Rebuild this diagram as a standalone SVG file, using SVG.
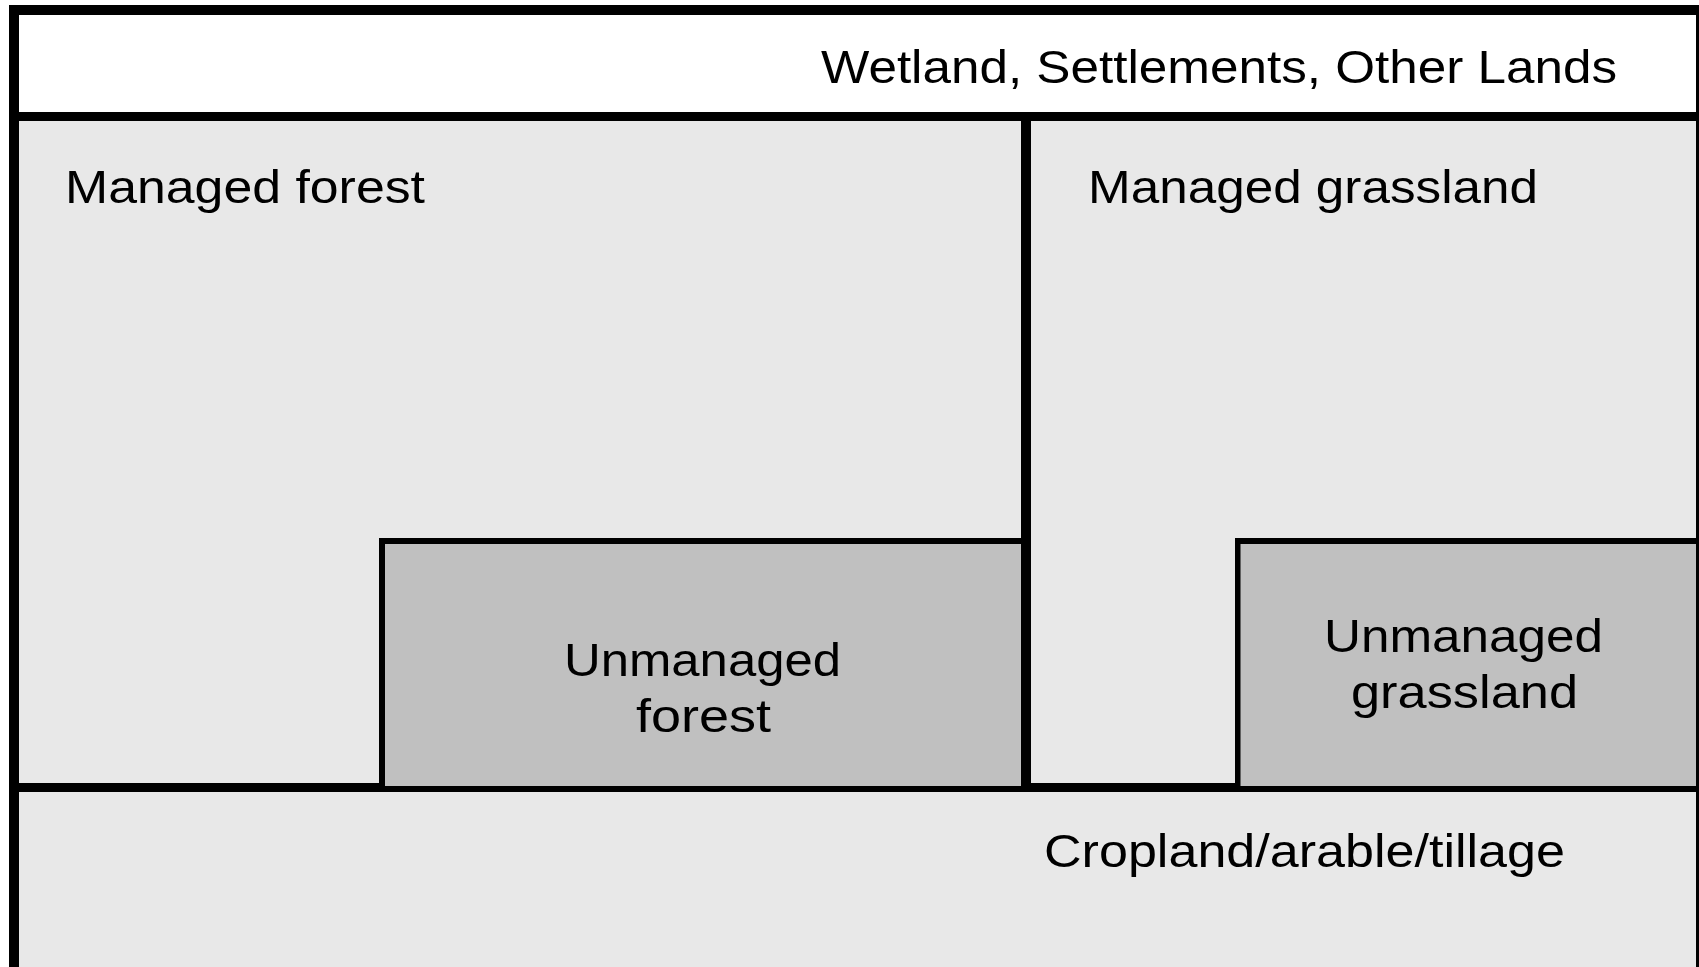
<svg xmlns="http://www.w3.org/2000/svg" width="1699" height="967" viewBox="0 0 1699 967">
<style>
.lbl{font-family:"Liberation Sans",Arial,Helvetica,sans-serif;font-size:46px;fill:#000}
.light{fill:#e8e8e8}
.dark{fill:#c0c0c0}
.ln{fill:#000}
</style>
<rect x="0" y="0" width="1699" height="967" fill="#ffffff"/>
<g id="header">
<rect x="19" y="15" width="1677" height="97" fill="#ffffff"/>
<text class="lbl" x="821" y="83" textLength="796" lengthAdjust="spacingAndGlyphs">Wetland, Settlements, Other Lands</text>
</g>
<g id="managed-forest">
<rect class="light" x="19" y="121" width="1002" height="662"/>
<text class="lbl" x="65" y="203" textLength="360" lengthAdjust="spacingAndGlyphs">Managed forest</text>
</g>
<g id="managed-grassland">
<rect class="light" x="1031" y="121" width="665" height="662"/>
<text class="lbl" x="1088" y="203" textLength="450" lengthAdjust="spacingAndGlyphs">Managed grassland</text>
</g>
<g id="cropland">
<rect class="light" x="19" y="792" width="1677" height="175"/>
<text class="lbl" x="1044" y="867" textLength="521" lengthAdjust="spacingAndGlyphs">Cropland/arable/tillage</text>
</g>
<g id="frame">
<rect class="ln" x="9" y="5" width="10" height="962"/>
<rect class="ln" x="9" y="5" width="1690" height="10"/>
<rect class="ln" x="1696" y="5" width="10" height="962"/>
<rect class="ln" x="9" y="112" width="1690" height="9"/>
<rect class="ln" x="1021" y="112" width="10" height="680"/>
<rect class="ln" x="9" y="783" width="1690" height="9"/>
</g>
<g id="unmanaged-forest">
<rect class="ln" x="379" y="538" width="647" height="248"/>
<rect class="dark" x="385" y="544" width="636" height="242"/>
<text class="lbl" x="564" y="676" textLength="277" lengthAdjust="spacingAndGlyphs">Unmanaged</text>
<text class="lbl" x="636" y="732" textLength="135" lengthAdjust="spacingAndGlyphs">forest</text>
</g>
<g id="unmanaged-grassland">
<rect class="ln" x="1235" y="538" width="464" height="248"/>
<rect class="dark" x="1240.5" y="544" width="455.5" height="242"/>
<text class="lbl" x="1324" y="652" textLength="279" lengthAdjust="spacingAndGlyphs">Unmanaged</text>
<text class="lbl" x="1351" y="708" textLength="227" lengthAdjust="spacingAndGlyphs">grassland</text>
</g>
<g id="connectors"></g>
</svg>
